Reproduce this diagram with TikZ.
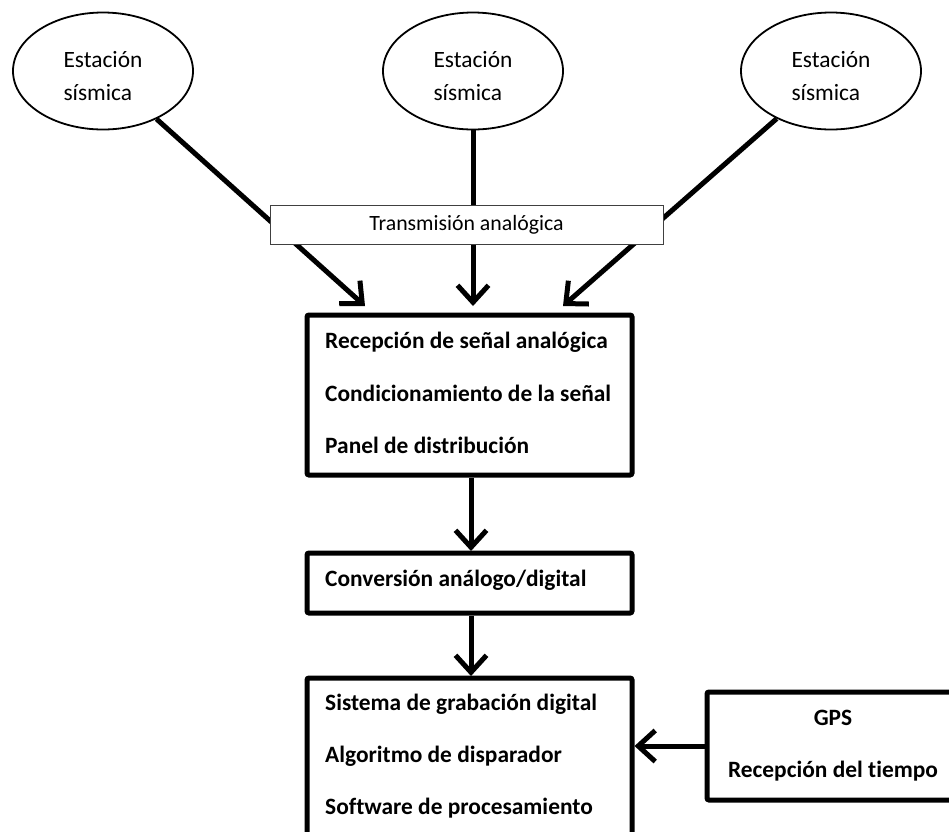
\documentclass[tikz,border=0pt]{standalone}
\usepackage{fontspec}
\setmainfont{Carlito}[Ligatures=NoCommon]
\usetikzlibrary{arrows.meta,shapes.geometric}
\begin{document}
\begin{tikzpicture}[x=1pt,y=-1pt,
  station/.style={ellipse,draw,line width=1.8pt,minimum width=180pt,minimum height=117pt,inner sep=0pt},
  stationtext/.style={align=left,font=\fontsize{23.4}{33}\selectfont,inner sep=0pt},
  stagebox/.style={draw,line width=5pt,rounded corners=2pt,inner sep=0pt},
  linkbox/.style={draw=black!75,line width=1pt,fill=white,inner sep=0pt,
    font=\fontsize{21.8}{24}\selectfont},
  item/.style={anchor=mid west,inner sep=0pt,yshift=-4pt,font=\bfseries\fontsize{23.4}{27}\selectfont},
  flow/.style={line width=5pt,-{Straight Barb[length=17pt,width=31pt,line width=5pt]}},
]
\clip (0,0) rectangle (949,831);
\fill[white] (0,0) rectangle (949,831);

% seismic stations
\node[station] (e1) at (103,71) {};
\node[station] (e2) at (473,71) {};
\node[station] (e3) at (831,71) {};
\node[stationtext] (l1) at (103,76) {Estación\\sísmica};
\node[stationtext] (l2) at (473,76) {Estación\\sísmica};
\node[stationtext] (l3) at (831,76) {Estación\\sísmica};

% processing stages
\node[stagebox,minimum width=325pt,minimum height=160pt] (b1) at (469.5,395) {};
\node[stagebox,minimum width=325pt,minimum height=60pt] (b2) at (469.5,583) {};
\node[stagebox,minimum width=325pt,minimum height=200pt] (b3) at (469.5,778) {};
\node[stagebox,minimum width=260pt,minimum height=108pt] (gps) at (837,746) {};

% arrow tips above the reception stage
\coordinate (t1) at (365,306);
\coordinate (t2) at (473,306);
\coordinate (t3) at (563,306);

\draw[flow] (e1) -- (t1);
\draw[flow] (e2.south) -- (t2);
\draw[flow] (e3) -- (t3);

% analog transmission label over the links
\node[linkbox,minimum width=393pt,minimum height=39pt] (tx) at (466.5,224.5) {\raisebox{-2pt}{Transmisión analógica}};

% stage contents
\node[item] (r1) at (325,342) {Recepción de señal analógica};
\node[item] (r2) at (325,395) {Condicionamiento de la señal};
\node[item] (r3) at (325,447) {Panel de distribución};
\node[item] (c1) at (325,580) {Conversión análogo/digital};
\node[item] (s1) at (325,704) {Sistema de grabación digital};
\node[item] (s2) at (325,756) {Algoritmo de disparador};
\node[item] (s3) at (325,808) {Software de procesamiento};
\node[item,anchor=mid] (g1) at (833,719) {GPS};
\node[item,anchor=mid] (g2) at (833,771) {Recepción del tiempo};

% links between stages
\coordinate (a1) at (471,551);
\coordinate (a2) at (471,676);
\draw[flow] (b1.south -| a1) -- (a1);
\draw[flow] (b2.south -| a2) -- (a2);
\draw[flow] (gps.west) -- (gps.west -| b3.east);
\end{tikzpicture}
\end{document}
